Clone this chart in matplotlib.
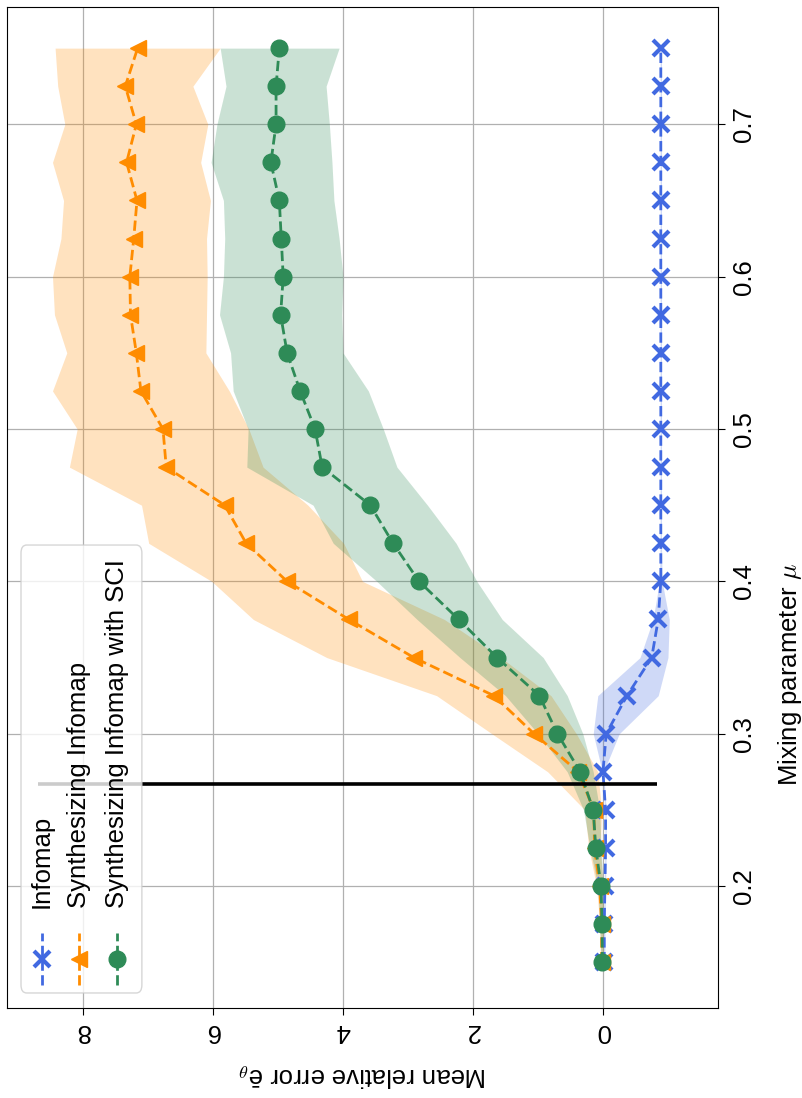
import numpy as np
import matplotlib
matplotlib.use("Agg")
import matplotlib.pyplot as plt
from matplotlib.patches import FancyBboxPatch

plt.rcParams['font.family'] = ['Liberation Sans', 'DejaVu Sans']
plt.rcParams['mathtext.fontset'] = 'cm'

# mixing parameter values
mu = [0.15, 0.175, 0.2, 0.225, 0.25, 0.275, 0.3, 0.325, 0.35, 0.375, 0.4, 0.425, 0.45,
      0.475, 0.5, 0.525, 0.55, 0.575, 0.6, 0.625, 0.65, 0.675, 0.7, 0.725, 0.75]

# Infomap
err_info = [-0.02, -0.02, -0.03, -0.04, -0.04, 0.0, -0.05, -0.37, -0.75, -0.85, -0.89, -0.89, -0.89,
            -0.89, -0.89, -0.89, -0.89, -0.89, -0.89, -0.89, -0.89, -0.89, -0.89, -0.89, -0.89]
lo_info = [-0.03, -0.03, -0.04, -0.05, -0.05, -0.01, -0.25, -0.85, -1.0, -1.02, -0.91, -0.9, -0.9,
           -0.9, -0.9, -0.9, -0.9, -0.9, -0.9, -0.9, -0.9, -0.9, -0.9, -0.9, -0.9]
hi_info = [-0.01, -0.01, -0.02, -0.03, -0.03, 0.01, 0.15, 0.08, -0.57, -0.77, -0.87, -0.88, -0.88,
           -0.88, -0.88, -0.88, -0.88, -0.88, -0.88, -0.88, -0.88, -0.88, -0.88, -0.88, -0.88]

# Synthesizing Infomap
err_syn = [0.02, 0.02, 0.05, 0.13, 0.14, 0.38, 1.06, 1.68, 2.91, 3.91, 4.86, 5.49, 5.82,
           6.72, 6.77, 7.11, 7.18, 7.27, 7.28, 7.22, 7.17, 7.33, 7.18, 7.35, 7.16]
lo_syn = [0.0, 0.0, 0.0, 0.04, 0.02, 0.08, 0.41, 0.8, 1.57, 2.44, 3.7, 3.99, 4.54,
          5.23, 5.45, 5.75, 6.11, 6.1, 6.09, 6.1, 6.04, 6.19, 6.08, 6.31, 5.89]
hi_syn = [0.04, 0.05, 0.1, 0.22, 0.28, 0.85, 1.71, 2.56, 4.25, 5.38, 6.02, 6.99, 7.1,
          8.21, 8.09, 8.47, 8.25, 8.44, 8.47, 8.34, 8.3, 8.47, 8.28, 8.39, 8.43]

# Synthesizing Infomap with SCI
err_sci = [0.01, 0.015, 0.03, 0.11, 0.15, 0.35, 0.7, 0.98, 1.63, 2.22, 2.83, 3.23, 3.58,
           4.32, 4.43, 4.66, 4.86, 4.96, 4.92, 4.95, 4.98, 5.11, 5.03, 5.03, 4.98]
lo_sci = [0.0, 0.0, 0.0, 0.03, 0.05, 0.15, 0.31, 0.55, 0.92, 1.55, 1.94, 2.26, 2.7,
          3.17, 3.38, 3.61, 4.0, 4.02, 4.0, 4.06, 4.14, 4.17, 4.21, 4.26, 4.06]
hi_sci = [0.03, 0.05, 0.08, 0.2, 0.3, 0.55, 1.0, 1.5, 2.2, 2.86, 3.48, 4.15, 4.46,
          5.48, 5.46, 5.69, 5.73, 5.9, 5.84, 5.82, 5.84, 6.03, 5.94, 5.8, 5.89]

# threshold marker
mu_thr = 0.267
thr_from, thr_to = -0.83, 8.69

labels = ['Infomap', 'Synthesizing Infomap', 'Synthesizing Infomap with SCI']
colors = ['royalblue', 'darkorange', 'seagreen']
markers = ['x', '<', 'o']
fs = 18.5

fig = plt.figure(figsize=(8.03, 10.98), dpi=100)
ax = fig.add_axes([0.00872, 0.08197, 0.88543, 0.91166])

# error on the horizontal axis (reversed), mu on the vertical axis
ax.fill_betweenx(mu, lo_info, hi_info, color=colors[0], alpha=0.25, lw=0)
ax.fill_betweenx(mu, lo_syn, hi_syn, color=colors[1], alpha=0.25, lw=0)
ax.fill_betweenx(mu, lo_sci, hi_sci, color=colors[2], alpha=0.25, lw=0)

ax.plot(err_info, mu, '--', color=colors[0], marker='x', ms=11, mew=3, lw=2)
ax.plot(err_syn, mu, '--', color=colors[1], marker='<', ms=12, lw=2)
ax.plot(err_sci, mu, '--', color=colors[2], marker='o', ms=12, lw=2)

ax.hlines(mu_thr, thr_from, thr_to, color='k', lw=2.6, zorder=3)

ax.set_xlim(9.17, -1.77)
ax.set_ylim(0.12, 0.777)
ax.set_xticks([0, 2, 4, 6, 8])
ax.set_yticks([0.2, 0.3, 0.4, 0.5, 0.6, 0.7])
ax.set_yticklabels(['0.2', '0.3', '0.4', '0.5', '0.6', '0.7'])
ax.yaxis.tick_right()
ax.tick_params(axis='x', labelrotation=180, labelsize=fs, length=5, pad=3)
ax.tick_params(axis='y', labelrotation=90, labelsize=fs, length=5, pad=5)
for t in ax.get_yticklabels():
    t.set_va('center')
ax.grid(True, color='#b0b0b0', lw=0.9)
ax.set_axisbelow(True)

ax.set_xlabel('Mean relative error ē$_{\\theta}$', fontsize=fs, rotation=180,
              rotation_mode='anchor', ha='center', va='center')
ax.xaxis.set_label_coords(0.5, -0.067)
ax.yaxis.set_label_position('right')
ax.set_ylabel('Mixing parameter $\\mu$', fontsize=fs, rotation=90)
ax.yaxis.label.set_rotation_mode('anchor')
ax.yaxis.label.set_ha('center')
ax.yaxis.label.set_va('center')
ax.yaxis.set_label_coords(1.101, 0.333)

# legend drawn by hand so it can be turned with the rest of the chart
box = FancyBboxPatch((0.0197, 0.015), 0.170, 0.4475,
                     boxstyle='round,pad=0,rounding_size=0.008',
                     transform=ax.transAxes, fc='white', ec='0.8',
                     alpha=0.8, lw=1, zorder=5)
ax.add_patch(box)
col_x = [0.0492, 0.1013, 0.1547]
for x, lab, c, m in zip(col_x, labels, colors, markers):
    kw = dict(ms=11, mew=3) if m == 'x' else dict(ms=12)
    ax.plot([x, x, x], [0.023, 0.049, 0.075], '--', color=c, lw=2, marker=m,
            markevery=[1], transform=ax.transAxes, clip_on=False, zorder=6, **kw)
    ax.text(x, 0.0999, lab, rotation=90, rotation_mode='anchor', ha='left',
            va='center', fontsize=fs, transform=ax.transAxes, zorder=6)

fig.savefig('out.png', dpi=100)
